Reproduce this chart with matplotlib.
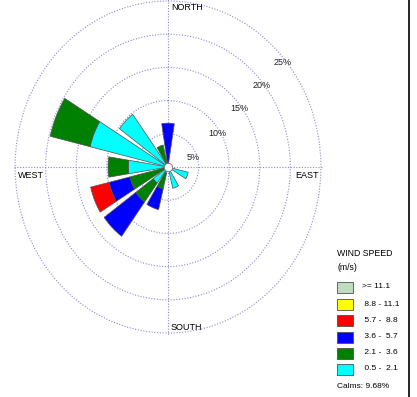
import numpy as np
import matplotlib
matplotlib.use("Agg")
from matplotlib import pyplot as plt
from matplotlib.patches import Rectangle
from matplotlib.lines import Line2D

plt.rcParams['font.family'] = ['Liberation Sans', 'DejaVu Sans']

directions = ['N', 'NNE', 'NE', 'ENE', 'E', 'ESE', 'SE', 'SSE',
              'S', 'SSW', 'SW', 'WSW', 'W', 'WNW', 'NW', 'NNW']
# frequency (%) per speed class, one value per direction
spd_05_21 = [0, 0, 0, 0, 0, 3.4, 0, 3.3, 0, 1.0, 3.0, 0.8, 6.5, 13.1, 9.8, 0.7]
spd_21_36 = [0, 0, 0, 0, 0, 0, 0, 0, 0, 2.4, 3.5, 5.6, 3.3, 6.7, 0, 2.7]
spd_36_57 = [6.6, 0, 0, 0, 0, 0, 0, 0, 0, 3.2, 6.4, 3.5, 0, 0, 0, 0]
spd_57_88 = [0, 0, 0, 0, 0, 0, 0, 0, 0, 0, 0, 3.1, 0, 0, 0, 0]
spd_88_111 = [0] * 16
spd_111 = [0] * 16

speed_labels = ['>= 11.1', ' 8.8 - 11.1', ' 5.7 -  8.8', ' 3.6 -  5.7', ' 2.1 -  3.6', ' 0.5 -  2.1']
speed_colors = ['#c0dcc0', '#ffff00', '#ff0000', '#0000ff', '#008000', '#00ffff']
ring_values = [5, 10, 15, 20, 25]
calms = 9.68

W, H = 417, 397
fig = plt.figure(figsize=(W / 100, H / 100), dpi=100)
ax = fig.add_axes([13.2 / W, 1 - 335 / H, 309.6 / W, 336 / H], projection='polar')
ax.set_aspect('auto')
ax.set_theta_zero_location('N')
ax.set_theta_direction(-1)

theta = np.deg2rad(np.arange(16) * 22.5)
width = np.deg2rad(18)
stack = [spd_05_21, spd_21_36, spd_36_57, spd_57_88, spd_88_111, spd_111]
stack_colors = speed_colors[::-1]
bottom = np.zeros(16)
for vals, col in zip(stack, stack_colors):
    vals = np.array(vals, dtype=float)
    mask = vals > 0
    ax.bar(theta[mask], vals[mask], width=width, bottom=bottom[mask], color=col,
           edgecolor='#505050', linewidth=0.5, zorder=3)
    bottom += vals

ax.plot(0, 0, 'o', ms=6, mfc='white', mec='#707070', mew=0.6, zorder=5)

ax.set_ylim(0, 25.3)
ax.set_rgrids(ring_values, labels=[''] * len(ring_values))
ax.set_thetagrids([0, 90, 180, 270], labels=[''] * 4)
ax.grid(True, color='#8a8ad0', linestyle=(0, (1, 1.5)), linewidth=0.8)
ax.spines['polar'].set_visible(False)
ax.set_facecolor('white')

label_angles = [70, 58, 53, 51, 50]
label_radii = [4.35, 9.6, 14.6, 19.6, 24.5]
for v, a, r in zip(ring_values, label_angles, label_radii):
    ax.text(np.deg2rad(a), r, f'{v}%', fontsize=6.5, ha='center', va='center',
            color='#202020', zorder=4)

fs = 6.5
fig.text(171 / W, 1 - 8 / H, 'NORTH', fontsize=fs, ha='left', va='center')
fig.text(18 / W, 1 - 175 / H, 'WEST', fontsize=fs, ha='left', va='center')
fig.text(295 / W, 1 - 175 / H, 'EAST', fontsize=fs, ha='left', va='center')
fig.text(171 / W, 1 - 327 / H, 'SOUTH', fontsize=fs, ha='left', va='center')

# legend
fig.text(337 / W, 1 - 254 / H, 'WIND SPEED', fontsize=6.3, ha='left', va='center')
fig.text(337 / W, 1 - 267 / H, '(m/s)', fontsize=6.3, ha='left', va='center')
row_y = [287, 304, 320, 337, 353, 369]
for y, lab, col in zip(row_y, speed_labels, speed_colors):
    fig.add_artist(Rectangle((337 / W, 1 - (y + 5.5) / H), 16 / W, 11 / H,
                             facecolor=col, edgecolor='#505050', linewidth=0.6,
                             transform=fig.transFigure))
    fig.text(362 / W, 1 - y / H, lab, fontsize=6, ha='left', va='center')
fig.text(337 / W, 1 - 386 / H, f'Calms: {calms:.2f}%', fontsize=6, ha='left', va='center')

fig.add_artist(Line2D([409 / W, 409 / W], [0, 1], color='black', linewidth=1.2,
                      transform=fig.transFigure))

fig.savefig('out.png', dpi=100)
